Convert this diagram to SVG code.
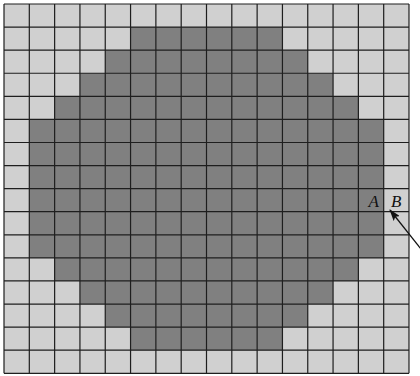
<svg xmlns="http://www.w3.org/2000/svg" width="420" height="376" viewBox="0 0 420 376">
<style>
.light{fill:#d0d0d0}
.dark{fill:#808080}
.grid{fill:none;stroke:#1e1e1e;stroke-width:1.2}
.lbl{font-family:"Liberation Serif","Times New Roman",serif;font-style:italic;font-size:17px;fill:#111}
.arrow{stroke:#111;stroke-width:1.3;fill:none}
</style>
<defs>
<marker id="ah" viewBox="0 0 12 8" refX="11" refY="4" markerWidth="12" markerHeight="8" markerUnits="userSpaceOnUse" orient="auto">
<path d="M0,0 L12,4 L0,8 L2.5,4 Z" fill="#111"/>
</marker>
</defs>
<rect width="420" height="376" fill="#fff"/>
<g id="board">
<rect class="light" x="4" y="4" width="405" height="369.28"/>
<path class="dark" d="M130.56,27.08 L282.44,27.08 L282.44,50.16 L307.75,50.16 L307.75,73.24 L333.06,73.24 L333.06,96.32 L358.38,96.32 L358.38,119.4 L383.69,119.4 L383.69,257.88 L358.38,257.88 L358.38,280.96 L333.06,280.96 L333.06,304.04 L307.75,304.04 L307.75,327.12 L282.44,327.12 L282.44,350.2 L130.56,350.2 L130.56,327.12 L105.25,327.12 L105.25,304.04 L79.94,304.04 L79.94,280.96 L54.63,280.96 L54.63,257.88 L29.31,257.88 L29.31,119.4 L54.63,119.4 L54.63,96.32 L79.94,96.32 L79.94,73.24 L105.25,73.24 L105.25,50.16 L130.56,50.16 Z"/>
<path class="grid" d="M4,4V373.28 M29.31,4V373.28 M54.63,4V373.28 M79.94,4V373.28 M105.25,4V373.28 M130.56,4V373.28 M155.88,4V373.28 M181.19,4V373.28 M206.5,4V373.28 M231.81,4V373.28 M257.13,4V373.28 M282.44,4V373.28 M307.75,4V373.28 M333.06,4V373.28 M358.38,4V373.28 M383.69,4V373.28 M409,4V373.28
M4,4H409 M4,27.08H409 M4,50.16H409 M4,73.24H409 M4,96.32H409 M4,119.4H409 M4,142.48H409 M4,165.56H409 M4,188.64H409 M4,211.72H409 M4,234.8H409 M4,257.88H409 M4,280.96H409 M4,304.04H409 M4,327.12H409 M4,350.2H409 M4,373.28H409"/>
</g>
<g id="label-A"><text class="lbl" x="368.5" y="207">A</text></g>
<g id="label-B"><text class="lbl" x="391" y="207">B</text></g>
<g id="connectors">
<line class="arrow" x1="421" y1="249" x2="390" y2="210" marker-end="url(#ah)"/>
</g>
</svg>
